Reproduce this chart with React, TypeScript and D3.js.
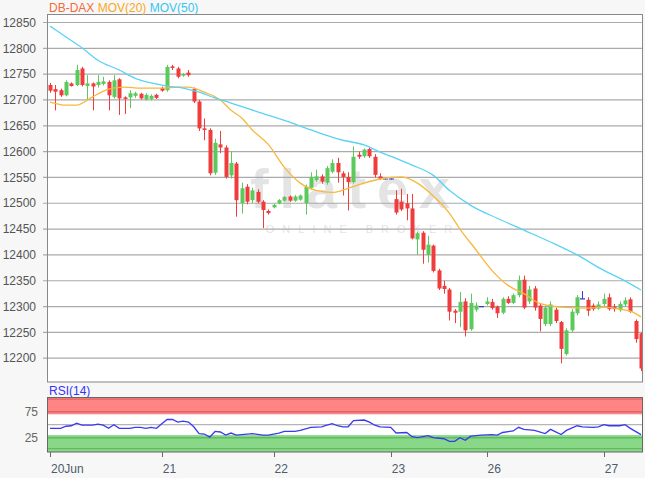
import React from "react";
import * as d3 from "d3";

// hourly candles, 20 Jun - 27 Jun
const open = [
  12729, 12721, 12719, 12709, 12732, 12729, 12761, 12727, 12732, 12729,
  12731, 12735, 12706, 12740, 12705, 12705, 12708, 12712, 12701, 12702,
  12710, 12723, 12719, 12765, 12761, 12747, 12753, 12721, 12697, 12645,
  12642, 12559, 12614, 12608, 12554, 12577, 12500, 12532, 12506, 12522,
  12503, 12485, 12492, 12500, 12505, 12513, 12505, 12507, 12500, 12530,
  12545, 12552, 12540, 12561, 12578, 12558, 12551, 12541, 12594, 12591,
  12605, 12590, 12552, 12547, 12547, 12508, 12503, 12500, 12490, 12430,
  12443, 12400, 12418, 12370, 12340, 12333, 12292, 12290, 12310, 12256,
  12294, 12300, 12305, 12309, 12300, 12288, 12315, 12307, 12322, 12352,
  12310, 12335, 12302, 12266, 12266, 12294, 12270, 12208, 12254, 12287,
  12315, 12313, 12302, 12296, 12305, 12318, 12300, 12293, 12304, 12314,
  12272, 12248,
];
const high = [
  12733, 12729, 12722, 12738, 12734, 12768, 12764, 12748, 12734, 12748,
  12745, 12738, 12748, 12742, 12707, 12719, 12716, 12714, 12713, 12711,
  12712, 12726, 12768, 12768, 12764, 12752, 12758, 12724, 12700, 12664,
  12645, 12625, 12640, 12612, 12600, 12580, 12540, 12537, 12530, 12527,
  12506, 12488, 12499, 12508, 12514, 12515, 12516, 12517, 12536, 12560,
  12565, 12556, 12572, 12585, 12588, 12562, 12560, 12610, 12600, 12606,
  12608, 12595, 12558, 12548, 12548, 12525, 12528, 12518, 12518, 12445,
  12446, 12437, 12420, 12373, 12350, 12336, 12295, 12328, 12316, 12325,
  12308, 12300, 12318, 12315, 12302, 12318, 12320, 12325, 12360, 12360,
  12340, 12340, 12305, 12302, 12310, 12298, 12272, 12258, 12295, 12322,
  12330, 12318, 12306, 12310, 12325, 12325, 12305, 12310, 12318, 12318,
  12275, 12250,
];
const low = [
  12714, 12680, 12706, 12707, 12726, 12727, 12726, 12700, 12680, 12724,
  12728, 12680, 12703, 12671, 12673, 12684, 12704, 12701, 12699, 12699,
  12702, 12716, 12716, 12758, 12742, 12745, 12745, 12694, 12640, 12622,
  12554, 12555, 12597, 12548, 12548, 12474, 12480, 12498, 12500, 12500,
  12452, 12478, 12490, 12498, 12503, 12503, 12503, 12505, 12478, 12527,
  12542, 12538, 12536, 12558, 12540, 12515, 12486, 12538, 12586, 12588,
  12588, 12550, 12545, 12546, 12546, 12478, 12485, 12467, 12430, 12400,
  12383, 12385, 12366, 12332, 12325, 12273, 12268, 12260, 12242, 12253,
  12290, 12300, 12302, 12294, 12278, 12285, 12305, 12305, 12318, 12295,
  12305, 12292, 12252, 12262, 12262, 12268, 12190, 12205, 12250, 12283,
  12315, 12282, 12292, 12294, 12300, 12292, 12290, 12290, 12300, 12288,
  12230, 12175,
];
const close = [
  12718, 12716, 12709, 12735, 12727, 12758, 12729, 12732, 12726, 12735,
  12736, 12709, 12738, 12703, 12702, 12713, 12713, 12703, 12710, 12708,
  12704, 12718, 12764, 12762, 12745, 12750, 12748, 12697, 12645, 12642,
  12558, 12617, 12608, 12551, 12578, 12506, 12529, 12503, 12525, 12503,
  12487, 12481, 12497, 12506, 12512, 12505, 12513, 12515, 12532, 12551,
  12552, 12542, 12568, 12578, 12560, 12551, 12541, 12590, 12590, 12604,
  12591, 12555, 12547, 12547, 12547, 12482, 12488, 12490, 12432, 12442,
  12410, 12420, 12369, 12335, 12334, 12290, 12288, 12309, 12254, 12307,
  12302, 12300, 12310, 12297, 12287, 12315, 12307, 12322, 12351, 12298,
  12333, 12298, 12276, 12298, 12304, 12272, 12218, 12254, 12290, 12318,
  12315, 12292, 12295, 12304, 12315, 12295, 12295, 12305, 12312, 12290,
  12237, 12180,
];

// moving averages read at sample candles
const ma20Idx = [0, 3, 5, 8, 11, 14, 17, 21, 24, 26, 29, 32, 34, 36, 38, 41, 44, 47, 50, 53, 56, 59, 62, 66, 69, 72, 75, 77, 80, 83, 86, 89, 92, 96, 101, 104, 107, 109, 111];
const ma20Val = [12696, 12690, 12690, 12706, 12721, 12725, 12723, 12723, 12725, 12725, 12715, 12700, 12680, 12665, 12642, 12614, 12570, 12539, 12525, 12521, 12529, 12539, 12547, 12551, 12539, 12514, 12481, 12450, 12410, 12370, 12341, 12325, 12306, 12299, 12297, 12299, 12295, 12291, 12280];
const ma50Idx = [0, 3, 6, 9, 13, 16, 19, 22, 25, 28, 31, 34, 39, 45, 49, 55, 59, 62, 65, 68, 72, 75, 79, 84, 89, 94, 99, 104, 107, 111];
const ma50Val = [12843, 12822, 12801, 12777, 12758, 12742, 12733, 12727, 12723, 12715, 12704, 12694, 12677, 12657, 12642, 12622, 12613, 12599, 12587, 12574, 12554, 12525, 12496, 12471, 12448, 12425, 12400, 12370, 12355, 12332];

// RSI(14)
const rsiIdx = [0, 2, 3, 4, 5, 6, 8, 9, 10, 11, 12, 13, 15, 16, 17, 18, 19, 20, 21, 22, 23, 24, 25, 26, 27, 28, 29, 30, 31, 32, 33, 34, 35, 36, 38, 40, 41, 43, 44, 46, 47, 49, 51, 52, 53, 54, 55, 56, 57, 59, 60, 61, 62, 64, 65, 67, 68, 69, 71, 72, 74, 75, 76, 77, 78, 79, 81, 83, 84, 85, 87, 88, 89, 91, 93, 94, 96, 97, 99, 100, 102, 103, 104, 105, 107, 108, 109, 111];
const rsiVal = [43, 43, 47, 48, 53, 49, 49, 51, 49, 43, 50, 43, 43, 45, 45, 43, 45, 43, 52, 60, 60, 55, 57, 55, 46, 33, 32, 26, 37, 36, 30, 34, 30, 31, 33, 30, 30, 34, 37, 37, 39, 45, 46, 49, 52, 48, 46, 46, 58, 59, 55, 49, 46, 45, 34, 35, 27, 25, 29, 25, 23, 18, 18, 25, 20, 28, 30, 31, 30, 35, 38, 45, 41, 39, 33, 41, 31, 39, 48, 46, 45, 46, 50, 48, 48, 50, 43, 31];

const priceTicks = [12200, 12250, 12300, 12350, 12400, 12450, 12500, 12550, 12600, 12650, 12700, 12750, 12800, 12850];
const rsiTicks = [25, 75];
const dayIdx = [0, 21, 42, 64, 82, 104];
const dayLabels = ["20Jun", "21", "22", "23", "26", "27"];

const FONT = "Arial, 'Liberation Sans', sans-serif";

export default function App() {
  const left = 47, right = 643;
  const top = 14, bottom = 381.5;
  const rTop = 397.5, rBottom = 452;

  const x = d3.scaleLinear().domain([0, open.length - 1]).range([50, 641]);
  const y = d3.scaleLinear().domain([12200, 12850]).range([358.2, 22.5]);
  const yr = d3.scaleLinear().domain([25, 75]).range([437.7, 411.7]);

  const maLine = (idx: number[], val: number[]) =>
    d3.line<number>().x((i) => x(idx[i])).y((i) => y(val[i])).curve(d3.curveMonotoneX)(d3.range(idx.length)) || "";
  const rsiPath = d3.line<number>().x((i) => x(rsiIdx[i])).y((i) => yr(rsiVal[i]))(d3.range(rsiIdx.length)) || "";

  return (
    <svg width={645} height={478} style={{ position: "absolute", left: 0, top: 0, background: "#f7f7f7" }} fontFamily={FONT}>
      <defs>
        <clipPath id="plot">
          <rect x={left} y={top} width={right - left} height={bottom - top} />
        </clipPath>
      </defs>

      {/* price panel */}
      <rect x={left} y={top} width={right - left} height={bottom - top} fill="#fff" />
      <g opacity={0.45}>
        <text x={350} y={208} fontSize={56} fill="#c4c4c4" textAnchor="middle" textLength={200} lengthAdjust="spacing" fontWeight="bold">flatex</text>
        <text x={363} y={233} fontSize={11} fill="#c4c4c4" textAnchor="middle" letterSpacing={8}>ONLINE BROKER</text>
      </g>
      {priceTicks.map((p) => (
        <g key={p}>
          <line x1={43} x2={right} y1={y(p)} y2={y(p)} stroke="#aaa" strokeWidth={1.2} />
          <text x={36} y={y(p)} dy="0.35em" textAnchor="end" fontSize={12} fill="#555">{p}</text>
        </g>
      ))}

      <g clipPath="url(#plot)">
        {open.map((o, i) => {
          const c = close[i];
          const cx = Math.round(x(i)) + 0.5;
          const col = c > o ? "#5cc95c" : c < o ? "#f03c3c" : "#3a3ad0";
          const y1 = y(Math.max(o, c));
          const y2 = y(Math.min(o, c));
          return (
            <g key={i}>
              <line x1={cx} x2={cx} y1={y(high[i])} y2={y(low[i])} stroke={col} strokeWidth={1} />
              {c === o ? (
                <line x1={cx - 2.5} x2={cx + 2.5} y1={y1} y2={y1} stroke={col} strokeWidth={1.2} />
              ) : (
                <rect x={cx - 2} y={y1} width={4} height={Math.max(1, y2 - y1)} fill={col} />
              )}
            </g>
          );
        })}
        <path d={maLine(ma20Idx, ma20Val)} fill="none" stroke="#f8b83c" strokeWidth={1.3} />
        <path d={maLine(ma50Idx, ma50Val)} fill="none" stroke="#5ad2f5" strokeWidth={1.3} />
      </g>
      <rect x={left + 0.5} y={top + 0.5} width={right - left - 1} height={bottom - top} fill="none" stroke="#888" />

      <text x={49} y={12} fontSize={12}>
        <tspan fill="#f26b3a">DB-DAX</tspan>
        <tspan fill="#f7a823"> MOV(20)</tspan>
        <tspan fill="#35c6f0"> MOV(50)</tspan>
      </text>

      {/* RSI panel */}
      <text x={49} y={395} fontSize={12} fill="#3333ff">RSI(14)</text>
      <rect x={left} y={rTop} width={right - left} height={rBottom - rTop} fill="#fff" />
      <rect x={left} y={rTop} width={right - left} height={yr(70) - rTop} fill="#ff8585" />
      <rect x={left} y={yr(30)} width={right - left} height={rBottom - yr(30)} fill="#88d888" />
      <line x1={left} x2={right} y1={yr(75)} y2={yr(75)} stroke="#e06464" strokeWidth={1.5} />
      <line x1={left} x2={right} y1={yr(99)} y2={yr(99)} stroke="#e06464" strokeWidth={1.2} />
      <line x1={left} x2={right} y1={yr(25)} y2={yr(25)} stroke="#62bb62" strokeWidth={1.5} />
      <line x1={left} x2={right} y1={yr(4)} y2={yr(4)} stroke="#62bb62" strokeWidth={1.2} />
      <line x1={left} x2={right} y1={yr(50)} y2={yr(50)} stroke="#b5b5b5" strokeWidth={1.2} />
      {rsiTicks.map((t) => (
        <text key={t} x={38} y={yr(t)} dy="0.35em" textAnchor="end" fontSize={12} fill="#666">{t}</text>
      ))}
      <path d={rsiPath} fill="none" stroke="#3a3af0" strokeWidth={1.3} />
      <rect x={left + 0.5} y={rTop} width={right - left - 1} height={rBottom - rTop} fill="none" stroke="#666" />

      {/* day axis */}
      {dayIdx.map((d, k) => (
        <g key={d}>
          <line x1={Math.round(x(d)) + 0.5} x2={Math.round(x(d)) + 0.5} y1={rBottom} y2={rBottom + 5} stroke="#667" />
          <text x={x(d) + 1} y={473} fontSize={12} fill="#4d5b6a">{dayLabels[k]}</text>
        </g>
      ))}
    </svg>
  );
}
